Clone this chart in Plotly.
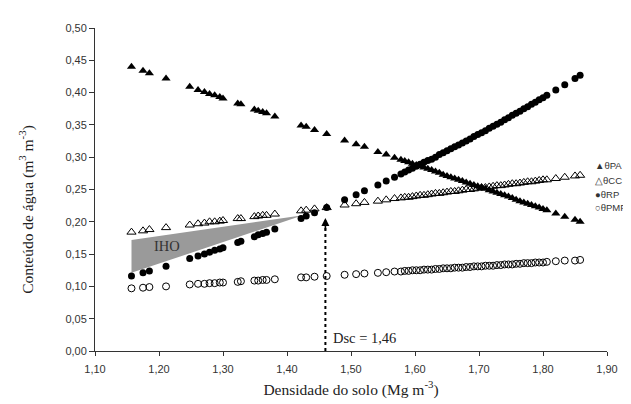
import plotly.graph_objects as go

# ---- data ----
densidade = [1.157, 1.175, 1.185, 1.211, 1.248, 1.261, 1.271, 1.279, 1.287, 1.295,
             1.300, 1.323, 1.328, 1.349, 1.355, 1.362, 1.368, 1.381, 1.422, 1.430,
             1.443, 1.462, 1.490, 1.508, 1.521, 1.542, 1.555, 1.568,
             1.578, 1.584, 1.590, 1.596, 1.602, 1.608, 1.614, 1.620, 1.626, 1.632,
             1.638, 1.644, 1.650, 1.656, 1.662, 1.668, 1.674, 1.680, 1.686, 1.692,
             1.698, 1.704, 1.710, 1.716, 1.722, 1.728, 1.734, 1.740, 1.746, 1.752,
             1.758, 1.764, 1.770, 1.776, 1.782, 1.788, 1.794, 1.800, 1.806,
             1.820, 1.834, 1.850, 1.858]

theta_pa = [0.440, 0.434, 0.430, 0.422, 0.409, 0.404, 0.401, 0.398, 0.396, 0.393,
            0.391, 0.383, 0.382, 0.374, 0.372, 0.370, 0.368, 0.363, 0.349, 0.347,
            0.342, 0.336, 0.326, 0.320, 0.316, 0.308, 0.304, 0.299,
            0.296, 0.294, 0.292, 0.290, 0.288, 0.286, 0.284, 0.282, 0.280, 0.278,
            0.276, 0.273, 0.271, 0.269, 0.267, 0.265, 0.263, 0.261, 0.259, 0.257,
            0.255, 0.253, 0.251, 0.249, 0.247, 0.245, 0.243, 0.241, 0.239, 0.237,
            0.234, 0.232, 0.230, 0.228, 0.226, 0.224, 0.222, 0.220, 0.218,
            0.213, 0.208, 0.203, 0.200]

theta_cc = [0.184, 0.186, 0.188, 0.191, 0.195, 0.197, 0.198, 0.200, 0.200, 0.201,
            0.202, 0.205, 0.205, 0.208, 0.209, 0.210, 0.210, 0.212, 0.217, 0.218,
            0.220, 0.222, 0.226, 0.228, 0.230, 0.232, 0.234, 0.236,
            0.237, 0.238, 0.238, 0.239, 0.240, 0.241, 0.241, 0.242, 0.243, 0.244,
            0.244, 0.245, 0.246, 0.247, 0.247, 0.248, 0.249, 0.250, 0.250, 0.251,
            0.252, 0.253, 0.253, 0.254, 0.255, 0.256, 0.256, 0.257, 0.258, 0.259,
            0.259, 0.260, 0.261, 0.262, 0.262, 0.263, 0.264, 0.265, 0.265,
            0.267, 0.269, 0.271, 0.272]

theta_rp = [0.116, 0.121, 0.124, 0.131, 0.143, 0.147, 0.150, 0.153, 0.156, 0.158,
            0.160, 0.168, 0.170, 0.177, 0.180, 0.182, 0.184, 0.189, 0.205, 0.209,
            0.214, 0.222, 0.234, 0.242, 0.248, 0.257, 0.263, 0.269,
            0.274, 0.277, 0.280, 0.283, 0.286, 0.289, 0.292, 0.295, 0.297, 0.300,
            0.304, 0.307, 0.310, 0.313, 0.316, 0.319, 0.322, 0.325, 0.328, 0.332,
            0.335, 0.338, 0.341, 0.345, 0.348, 0.351, 0.354, 0.358, 0.361, 0.365,
            0.368, 0.371, 0.375, 0.378, 0.382, 0.385, 0.389, 0.392, 0.396,
            0.404, 0.412, 0.422, 0.427]

theta_pmp = [0.097, 0.098, 0.099, 0.100, 0.103, 0.104, 0.104, 0.105, 0.105, 0.106,
             0.106, 0.107, 0.108, 0.109, 0.109, 0.110, 0.110, 0.111, 0.114, 0.114,
             0.115, 0.116, 0.118, 0.119, 0.120, 0.121, 0.122, 0.123,
             0.123, 0.124, 0.124, 0.125, 0.125, 0.125, 0.126, 0.126, 0.126, 0.127,
             0.127, 0.128, 0.128, 0.128, 0.129, 0.129, 0.129, 0.130, 0.130, 0.131,
             0.131, 0.131, 0.132, 0.132, 0.132, 0.133, 0.133, 0.134, 0.134, 0.134,
             0.135, 0.135, 0.136, 0.136, 0.136, 0.137, 0.137, 0.137, 0.138,
             0.139, 0.140, 0.140, 0.141]

iho_x = [1.157, 1.157, 1.425]
iho_y = [0.172, 0.121, 0.210]

dsc = 1.46
dsc_top = 0.206

x_ticks = [1.10, 1.20, 1.30, 1.40, 1.50, 1.60, 1.70, 1.80, 1.90]
y_ticks = [0.00, 0.05, 0.10, 0.15, 0.20, 0.25, 0.30, 0.35, 0.40, 0.45, 0.50]

legend_items = ["▲θPA", "△θCC", "●θRP", "○θPMP"]

INK = "#222222"
SANS = "Liberation Sans, Arial, sans-serif"
SERIF = "Liberation Serif, Times New Roman, serif"

fig = go.Figure()

# IHO polygon
fig.add_trace(go.Scatter(x=iho_x, y=iho_y, mode="lines", fill="toself",
                         fillcolor="#9a9a9a", line=dict(width=0, color="#9a9a9a"),
                         hoverinfo="skip", showlegend=False))

fig.add_trace(go.Scatter(x=densidade, y=theta_pa, mode="markers", name="θPA",
                         marker=dict(symbol="triangle-up", size=8, color="black",
                                     line=dict(width=0))))
fig.add_trace(go.Scatter(x=densidade, y=theta_cc, mode="markers", name="θCC",
                         marker=dict(symbol="triangle-up-open", size=8, color="black",
                                     line=dict(width=1, color="black"))))
fig.add_trace(go.Scatter(x=densidade, y=theta_rp, mode="markers", name="θRP",
                         marker=dict(symbol="circle", size=7, color="black",
                                     line=dict(width=0))))
fig.add_trace(go.Scatter(x=densidade, y=theta_pmp, mode="markers", name="θPMP",
                         marker=dict(symbol="circle-open", size=7, color="black",
                                     line=dict(width=1, color="black"))))

# Dsc dotted line and arrow
fig.add_trace(go.Scatter(x=[dsc, dsc], y=[0.0, dsc_top - 0.008], mode="lines",
                         line=dict(color="black", width=2, dash="dot"),
                         hoverinfo="skip", showlegend=False))
fig.add_annotation(x=dsc, y=dsc_top, xref="x", yref="y", ax=0, ay=14,
                   showarrow=True, arrowhead=2, arrowsize=1, arrowwidth=1.6,
                   arrowcolor="black", text="")

fig.add_annotation(x=dsc + 0.008, y=0.020, xref="x", yref="y", text="Dsc = 1,46",
                   showarrow=False, xanchor="left", yanchor="middle",
                   font=dict(family=SERIF, size=14.5, color=INK))
fig.add_annotation(x=1.212, y=0.163, xref="x", yref="y", text="IHO",
                   showarrow=False, xanchor="center", yanchor="middle",
                   font=dict(family=SERIF, size=14.5, color="#333333"))

# legend written as text on the right edge
leg_y = [0.573, 0.529, 0.486, 0.443]
for txt, yy in zip(legend_items, leg_y):
    fig.add_annotation(x=0.975, y=yy, xref="paper", yref="paper", text=txt,
                       showarrow=False, xanchor="left", yanchor="middle",
                       borderpad=0,
                       font=dict(family=SANS, size=9.5, color="#333333"))

# y-axis title
fig.add_annotation(x=-0.133, y=0.44, xref="paper", yref="paper",
                   text="Conteúdo de água (m<sup>3</sup> m<sup>-3</sup>)",
                   textangle=-90, showarrow=False, xanchor="center", yanchor="middle",
                   font=dict(family=SERIF, size=15.5, color=INK))

fig.update_layout(
    width=631, height=404,
    margin=dict(l=87, r=32, t=20, b=61),
    paper_bgcolor="white", plot_bgcolor="white",
    separators=",.",
    showlegend=False,
    font=dict(family=SANS, size=11, color="#333333"),
)

fig.update_xaxes(range=[1.10, 1.90], tickvals=x_ticks, tickformat=".2f",
                 showgrid=False, zeroline=False, showline=True, linecolor="#333333",
                 linewidth=1, ticks="outside", ticklen=4, tickcolor="#333333",
                 ticklabelstandoff=4,
                 tickfont=dict(family=SANS, size=11, color="#333333"),
                 title=dict(text="Densidade do solo (Mg m<sup>-3</sup>)", standoff=9,
                            font=dict(family=SERIF, size=15.5, color=INK)))
fig.update_yaxes(range=[0.0, 0.50], tickvals=y_ticks, tickformat=".2f",
                 showgrid=False, zeroline=False, showline=True, linecolor="#333333",
                 linewidth=1, ticks="outside", ticklen=5, tickcolor="#333333",
                 tickfont=dict(family=SANS, size=11, color="#333333"))

fig.write_html("out.html")
